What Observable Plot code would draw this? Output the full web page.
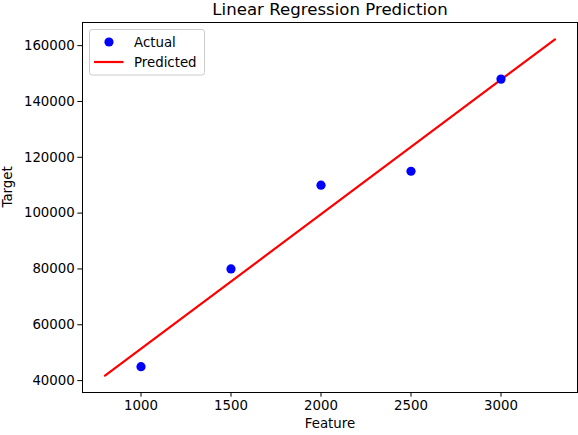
<!DOCTYPE html>
<html>
<head>
<meta charset="utf-8">
<script src="https://cdn.jsdelivr.net/npm/d3@7"></script>
<script src="https://cdn.jsdelivr.net/npm/@observablehq/plot@0.6"></script>
<style>
  html, body { margin: 0; padding: 0; background: #fff; }
  svg { display: block; }
</style>
</head>
<body>
<div id="chart"></div>
<script>
const features = [1000, 1500, 2000, 2500, 3000];
const targets = [45000, 80000, 110000, 115000, 148000];
const predX = [800, 3300];
const predY = [41760, 162260];
const xTicks = [1000, 1500, 2000, 2500, 3000];
const yTicks = [40000, 60000, 80000, 100000, 120000, 140000, 160000];
const titleText = "Linear Regression Prediction";
const xLabel = "Feature";
const yLabel = "Target";

const actual = features.map((f, i) => ({x: f, y: targets[i]}));
const predicted = predX.map((f, i) => ({x: f, y: predY[i]}));

const font = "DejaVu Sans, sans-serif";

const chart = Plot.plot({
  width: 578,
  height: 435,
  marginLeft: 82,
  marginRight: 1,
  marginTop: 22,
  marginBottom: 43,
  style: {fontFamily: font, fontSize: "13.33px", color: "#000", background: "#fff"},
  x: {domain: [675, 3425]},
  y: {domain: [35735, 168285]},
  marks: [
    Plot.line(predicted, {x: "x", y: "y", stroke: "#ff0000", strokeWidth: 2.2}),
    Plot.dot(actual, {x: "x", y: "y", r: 4.6, fill: "#0000ff", stroke: "none"}),
    Plot.frame({stroke: "#000", strokeWidth: 1}),
    Plot.axisX({ticks: xTicks, tickFormat: d => String(d), tickSize: 4.7, tickPadding: 3, label: null, fontSize: 13.33, fill: "#000"}),
    Plot.axisY({ticks: yTicks, tickFormat: d => String(d), tickSize: 4.7, tickPadding: 3, label: null, fontSize: 13.33, fill: "#000"}),
    Plot.text([xLabel], {frameAnchor: "bottom", dy: 35, fontSize: 13.33, fill: "#000"}),
    Plot.text([yLabel], {frameAnchor: "left", dx: -75, rotate: -90, fontSize: 13.33, fill: "#000"}),
    Plot.text([titleText], {frameAnchor: "top", dy: -19, fontSize: 16.6, fill: "#000"})
  ]
});

document.getElementById("chart").appendChild(chart);

// Legend inside the axes (upper left)
const svg = d3.select(chart);
const g = svg.append("g").attr("font-family", font).attr("font-size", 13.33).attr("text-anchor", "start");
g.append("rect")
  .attr("x", 89.5).attr("y", 29.5).attr("width", 115).attr("height", 45.5)
  .attr("rx", 2.5).attr("fill", "#fff").attr("fill-opacity", 0.8)
  .attr("stroke", "#cccccc").attr("stroke-width", 1);
g.append("circle").attr("cx", 109).attr("cy", 42).attr("r", 4.6).attr("fill", "#0000ff");
g.append("line").attr("x1", 94).attr("x2", 123.5).attr("y1", 62).attr("y2", 62)
  .attr("stroke", "#ff0000").attr("stroke-width", 2.2);
g.append("text").attr("x", 134).attr("y", 42).attr("dy", "0.35em").attr("text-anchor", "start").attr("fill", "#000").text("Actual");
g.append("text").attr("x", 134).attr("y", 62).attr("dy", "0.35em").attr("text-anchor", "start").attr("fill", "#000").text("Predicted");
</script>
</body>
</html>
